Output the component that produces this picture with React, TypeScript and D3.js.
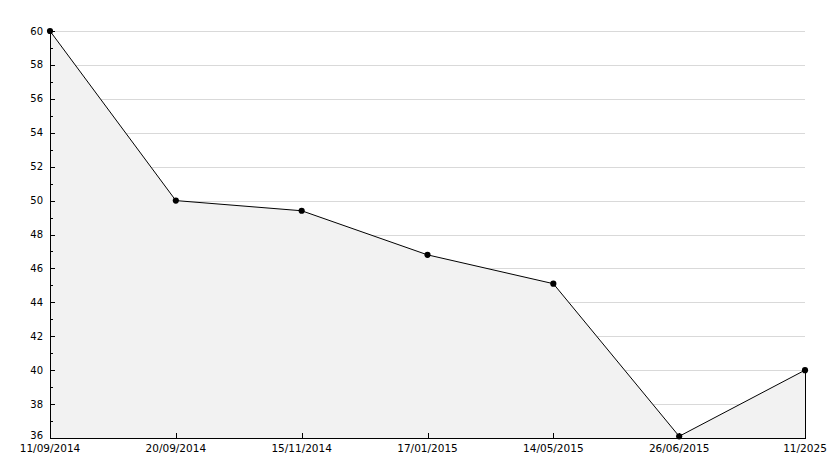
import React from "react";
import * as d3 from "d3";

const categories = ["11/09/2014", "20/09/2014", "15/11/2014", "17/01/2015", "14/05/2015", "26/06/2015", "11/2025"];
const values = [60, 50, 49.4, 46.8, 45.1, 36.1, 40];
const yMajorTicks = [36, 38, 40, 42, 44, 46, 48, 50, 52, 54, 56, 58, 60];
const yMinorTicks = [37, 39, 41, 43, 45, 47, 49, 51, 53, 55, 57, 59];

const W = 834;
const H = 468;
const left = 50;
const right = 805;
const top = 31;
const bottom = 438;

export default function App() {
  const x = d3.scalePoint<string>().domain(categories).range([left, right]);
  const y = d3.scaleLinear().domain([36, 60]).range([bottom, top]);
  const pts: [number, number][] = categories.map((c, i) => [x(c)!, y(values[i])]);
  const line = d3.line<[number, number]>().x(d => d[0]).y(d => d[1]);
  const area = d3.area<[number, number]>().x(d => d[0]).y0(y(36)).y1(d => d[1]);
  const font = "Verdana, 'DejaVu Sans', sans-serif";
  const r = (v: number) => Math.round(v) + 0.5;

  return (
    <svg width={W} height={H} style={{ position: "absolute", left: 0, top: 0, background: "#fff" }} fontFamily={font}>
      {yMajorTicks.filter(t => t !== 36).map(t => (
        <line key={"g" + t} x1={left} x2={right} y1={r(y(t))} y2={r(y(t))} stroke="#d9d9d9" strokeWidth={1} />
      ))}
      <path d={area(pts)!} fill="#f2f2f2" stroke="none" />
      <line x1={r(right)} x2={r(right)} y1={y(values[values.length - 1])} y2={bottom} stroke="#000" strokeWidth={1} />
      <line x1={r(left)} x2={r(left)} y1={top} y2={bottom + 1} stroke="#000" strokeWidth={1} />
      <line x1={left} x2={right + 1} y1={r(bottom)} y2={r(bottom)} stroke="#000" strokeWidth={1} />
      {yMajorTicks.map(t => (
        <g key={"yt" + t}>
          <line x1={left} x2={left + 5} y1={r(y(t))} y2={r(y(t))} stroke="#000" />
          <text x={43} y={y(t) - (t === 36 ? 3 : 0)} dy="0.35em" textAnchor="end" fontSize={10} fill="#000">{t}</text>
        </g>
      ))}
      {yMinorTicks.map(t => (
        <line key={"ym" + t} x1={left} x2={left + 3} y1={r(y(t))} y2={r(y(t))} stroke="#000" />
      ))}
      {categories.map(c => (
        <g key={"xt" + c}>
          <line x1={r(x(c)!)} x2={r(x(c)!)} y1={bottom - 5} y2={bottom} stroke="#000" />
          <text x={x(c)!} y={452} textAnchor="middle" fontSize={10.5} fill="#000">{c}</text>
        </g>
      ))}
      <path d={line(pts)!} fill="none" stroke="#000" strokeWidth={1} />
      {pts.map((p, i) => (
        <path key={"m" + i} d={d3.symbol().type(d3.symbolCircle).size(30)()!} transform={`translate(${p[0]},${p[1]})`} fill="#000" />
      ))}
    </svg>
  );
}
